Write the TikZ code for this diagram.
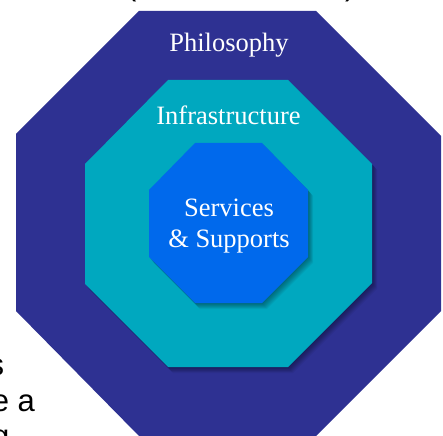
\documentclass[tikz,border=0pt]{standalone}
\usepackage{fontspec}
\setmainfont{Liberation Serif}
\newfontfamily\strayfont{Liberation Sans}
\definecolor{outerc}{HTML}{2E3192}
\definecolor{midc}{HTML}{00A8BF}
\definecolor{innerc}{HTML}{0069EC}
\tikzset{
  x=1pt,y=-1pt,
  lbl/.style={text=white,font=\fontsize{26.5}{31}\selectfont,anchor=base,inner sep=0pt},
  stray/.style={text=black,font=\strayfont\fontsize{31}{36}\selectfont,anchor=base west,inner sep=0pt},
  oct/.style={fill=#1,draw=none}
}
\newcommand{\midoct}{(168,80) -- (288,80) -- (372,164) -- (372,283) -- (288,367) -- (168,367) -- (85,284) -- (85,164) -- cycle}
\newcommand{\innoct}{(195,143) -- (262,143) -- (308,190) -- (308,257) -- (262,303) -- (195,303) -- (149,257) -- (149,190) -- cycle}
\begin{document}
\begin{tikzpicture}
\useasboundingbox (0,0) rectangle (443,435);
\fill[white] (0,0) rectangle (443,435);
\begin{scope}
\clip (0,0) rectangle (443,435);
\node[stray] (p1) at (126,-4.8) {(};
\node[stray] (p2) at (345,-4.8) {)};
\node[stray] (s1) at (-11.5,375) {s};
\node[stray] (s2) at (-8.3,411) {e a};
\node[stray] (s3) at (-8,446) {g};
\fill[oct=outerc] (139,11) -- (316,11) -- (441,136) -- (441,311) -- (316,436) -- (139,436) -- (16,311) -- (16,134) -- cycle;
\foreach \d in {10,9,...,1}{
  \fill[black,opacity=.04,shift={(\d*.5,\d*.6)}] \midoct;
}
\fill[oct=midc] \midoct;
\foreach \d in {10,9,...,1}{
  \fill[black,opacity=.04,shift={(\d*.5,\d*.6)}] \innoct;
}
\fill[oct=innerc] \innoct;
\end{scope}
\node[lbl] (phil) at (229,52) {Philosophy};
\node[lbl] (infra) at (228.5,125) {Infrastructure};
\node[lbl] (serv) at (229,216) {Services};
\node[lbl] (supp) at (229,247) {\& Supports};
\end{tikzpicture}
\end{document}
